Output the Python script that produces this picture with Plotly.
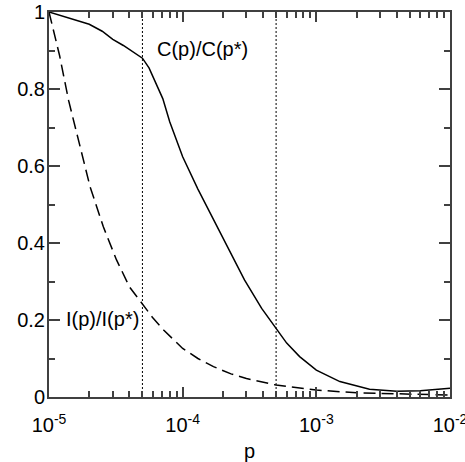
import plotly.graph_objects as go
import numpy as np

# data
p_C = [1e-5, 1.5e-5, 2e-5, 2.5e-5, 3e-5, 3.6e-5, 4.2e-5, 5e-5, 5.6e-5, 6.5e-5, 7.1e-5, 8e-5, 9e-5,
       1e-4, 1.3e-4, 1.7e-4, 2.2e-4, 2.9e-4, 3.9e-4, 5e-4, 6e-4, 7.5e-4, 1e-3, 1.5e-3, 2.5e-3,
       4e-3, 6e-3, 1e-2]
C_ratio = [1.0, 0.982, 0.968, 0.95, 0.929, 0.913, 0.897, 0.88, 0.855, 0.805, 0.775, 0.715, 0.665,
           0.624, 0.54, 0.46, 0.385, 0.304, 0.23, 0.178, 0.14, 0.105, 0.07, 0.04, 0.02,
           0.015, 0.016, 0.023]

p_I = [1e-5, 1.2e-5, 1.4e-5, 1.61e-5, 1.86e-5, 2.03e-5, 2.55e-5, 3.2e-5, 4e-5, 5e-5,
       6e-5, 7.2e-5, 1e-4, 1.3e-4, 1.7e-4, 2.3e-4, 3e-4, 5e-4, 1e-3, 2e-3, 5e-3, 1e-2]
I_ratio = [1.0, 0.887, 0.771, 0.685, 0.598, 0.546, 0.442, 0.356, 0.286, 0.243,
           0.205, 0.174, 0.126, 0.1, 0.079, 0.06, 0.048, 0.031, 0.018, 0.011, 0.007, 0.005]

p_marks = [5e-5, 5e-4]

x_major = [1e-5, 1e-4, 1e-3, 1e-2]
x_major_text = ["10<sup>-5</sup>", "10<sup>-4</sup>", "10<sup>-3</sup>", "10<sup>-2</sup>"]
x_minor = [m * d for d in [1e-5, 1e-4, 1e-3] for m in range(2, 10)]
y_major = [0, 0.2, 0.4, 0.6, 0.8, 1]
y_major_text = ["0", "0.2", "0.4", "0.6", "0.8", "1"]
y_minor = [0.1, 0.3, 0.5, 0.7, 0.9]

FONT = "Liberation Sans, Arial, sans-serif"
AX = "#404040"

fig = go.Figure()
for pm in p_marks:
    fig.add_trace(go.Scatter(x=[pm, pm], y=[0, 1], mode="lines",
                             line=dict(color="black", width=1, dash="2px,2px"),
                             showlegend=False, hoverinfo="skip"))
fig.add_trace(go.Scatter(x=p_C, y=C_ratio, mode="lines", line=dict(color="black", width=1.5),
                         showlegend=False))
fig.add_trace(go.Scatter(x=p_I, y=I_ratio, mode="lines",
                         line=dict(color="black", width=1.5, dash="12px,6px"),
                         showlegend=False))

fig.add_annotation(x=-4.207, y=0.904, xref="x", yref="y", text="C(p)/C(p*)",
                   showarrow=False, xanchor="left", yanchor="middle",
                   font=dict(family=FONT, size=20, color="black"))
fig.add_annotation(x=-4.89, y=0.203, xref="x", yref="y", text="I(p)/I(p*)",
                   showarrow=False, xanchor="left", yanchor="middle",
                   font=dict(family=FONT, size=20, color="black"))

fig.update_layout(
    width=465, height=462,
    margin=dict(l=49, r=15, t=12, b=65, autoexpand=False),
    paper_bgcolor="white", plot_bgcolor="white",
    font=dict(family=FONT, size=20, color="black"),
    xaxis=dict(type="log", range=[-5, -2], showgrid=False, zeroline=False, automargin=False,
               showline=True, linecolor=AX, linewidth=2, mirror="allticks",
               ticks="inside", ticklen=10, tickwidth=1.5, tickcolor=AX,
               tickvals=x_major, ticktext=x_major_text, tickfont=dict(family=FONT, size=20),
               ticklabeloverflow="allow", ticklabelstandoff=9,
               minor=dict(tickvals=x_minor, ticks="inside", ticklen=6, tickwidth=1.5, tickcolor=AX,
                          showgrid=False),
               title=dict(text="p", font=dict(size=20), standoff=9)),
    yaxis=dict(range=[0, 1], showgrid=False, zeroline=False, automargin=False,
               showline=True, linecolor=AX, linewidth=2, mirror="allticks",
               ticks="inside", ticklen=11, tickwidth=1.5, tickcolor=AX,
               tickvals=y_major, ticktext=y_major_text, tickfont=dict(family=FONT, size=20),
               ticklabeloverflow="allow", ticklabelstandoff=-2,
               minor=dict(tickvals=y_minor, ticks="inside", ticklen=6, tickwidth=1.5, tickcolor=AX,
                          showgrid=False)),
)

fig.write_html("out.html", config={"displayModeBar": False},
               post_script="document.body.style.margin='0';document.body.style.overflow='hidden';")
